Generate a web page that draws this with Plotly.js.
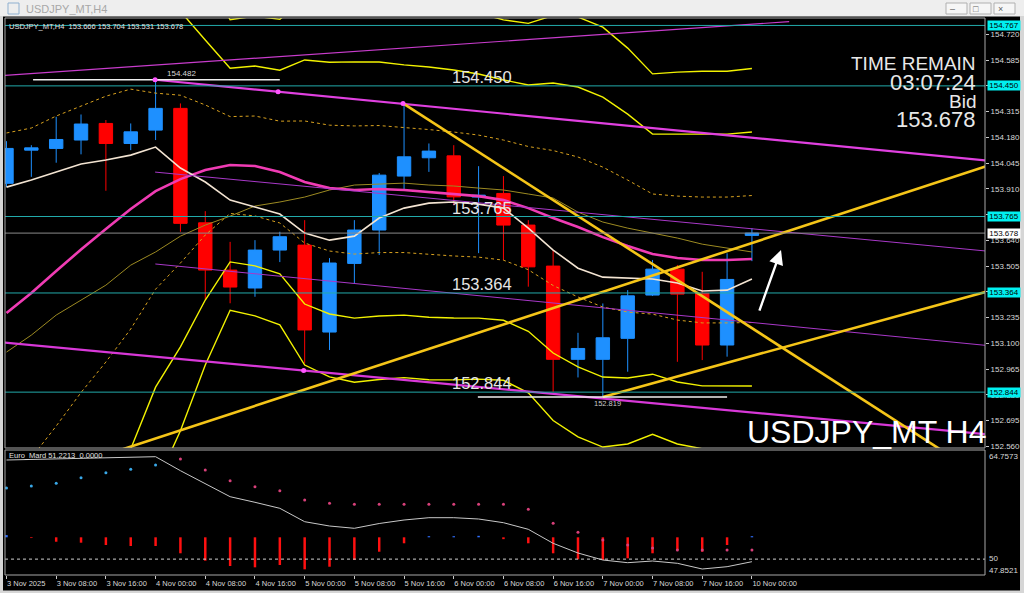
<!DOCTYPE html>
<html><head><meta charset="utf-8">
<script src="https://cdn.plot.ly/plotly-3.0.1.min.js"></script>
<style>html,body{margin:0;padding:0;background:#000;overflow:hidden}#chart{width:1024px;height:593px}</style>
</head><body><div id="chart"></div>
<script>
// ---------------- DATA ----------------
const times = ['3 Nov 00:00','3 Nov 04:00','3 Nov 08:00','3 Nov 12:00','3 Nov 16:00','3 Nov 20:00',
  '4 Nov 00:00','4 Nov 04:00','4 Nov 08:00','4 Nov 12:00','4 Nov 16:00','4 Nov 20:00',
  '5 Nov 00:00','5 Nov 04:00','5 Nov 08:00','5 Nov 12:00','5 Nov 16:00','5 Nov 20:00',
  '6 Nov 00:00','6 Nov 04:00','6 Nov 08:00','6 Nov 12:00','6 Nov 16:00','6 Nov 20:00',
  '7 Nov 00:00','7 Nov 04:00','7 Nov 08:00','7 Nov 12:00','7 Nov 16:00','7 Nov 20:00','10 Nov 00:00'];
const tickLabels = ['3 Nov 2025','3 Nov 08:00','3 Nov 16:00','4 Nov 00:00','4 Nov 08:00','4 Nov 16:00',
  '5 Nov 00:00','5 Nov 08:00','5 Nov 16:00','6 Nov 00:00','6 Nov 08:00','6 Nov 16:00',
  '7 Nov 00:00','7 Nov 08:00','7 Nov 16:00','10 Nov 00:00'];
const open  = [153.939,154.113,154.122,154.166,154.253,154.148,154.218,154.332,153.732,153.484,153.390,153.589,153.615,153.159,153.519,153.694,153.977,154.073,154.083,153.867,153.886,153.720,153.505,153.016,153.016,153.126,153.353,153.489,153.362,153.091,153.666];
const high  = [154.160,154.139,154.288,154.300,154.271,154.253,154.482,154.358,153.793,153.632,153.641,153.685,153.746,153.547,153.746,153.993,154.358,154.148,154.139,154.029,153.977,153.746,153.589,153.155,153.309,153.379,153.537,153.511,153.475,153.572,153.704];
const low   = [153.920,153.973,154.047,154.091,153.900,154.113,154.166,153.685,153.330,153.310,153.344,153.526,152.995,153.065,153.414,153.563,153.904,153.999,153.825,153.573,153.537,153.397,152.846,152.921,152.819,152.951,153.348,153.003,153.012,153.030,153.531];
const close = [154.122,154.125,154.169,154.250,154.148,154.209,154.332,153.729,153.484,153.395,153.589,153.659,153.170,153.521,153.694,153.982,154.078,154.108,153.868,153.877,153.720,153.501,153.016,153.073,153.129,153.349,153.489,153.358,153.091,153.435,153.678];
const maFast = [153.919,153.956,153.998,154.040,154.061,154.087,154.129,154.019,153.946,153.851,153.815,153.778,153.678,153.641,153.662,153.757,153.809,153.835,153.841,153.830,153.809,153.704,153.589,153.494,153.447,153.442,153.437,153.416,153.374,153.379,153.437];
const maSlow = [153.054,153.143,153.248,153.327,153.405,153.510,153.579,153.662,153.720,153.767,153.820,153.841,153.867,153.904,153.930,153.935,153.940,153.930,153.925,153.914,153.904,153.883,153.862,153.788,153.736,153.704,153.678,153.652,153.620,153.599,153.579];
const bbMid = [153.259,153.364,153.479,153.592,153.699,153.804,153.898,153.961,154.009,154.035,154.030,153.998,153.946,153.914,153.904,153.909,153.904,153.893,153.883,153.872,153.851,153.809,153.757,153.710,153.657,153.610,153.568,153.547,153.537,153.537,153.542];
const bbDev = [0.944,0.865,0.813,0.750,0.697,0.629,0.514,0.440,0.341,0.254,0.262,0.267,0.320,0.330,0.336,0.333,0.328,0.328,0.325,0.320,0.315,0.323,0.354,0.367,0.367,0.346,0.315,0.325,0.330,0.330,0.333];
const oscLine = [63.405,63.472,63.540,63.607,63.675,63.743,63.851,61.958,60.254,58.441,57.684,56.872,55.060,54.479,54.168,54.817,55.290,55.601,55.601,55.425,54.925,54.032,52.139,50.827,49.881,49.515,49.745,49.434,48.663,48.974,49.651];
const oscDots = [59.618,59.888,60.254,61.011,61.687,62.147,62.728,63.540,62.052,60.605,59.794,59.253,57.995,57.549,57.427,57.427,57.427,57.427,57.427,57.427,57.427,56.737,54.844,53.627,52.585,51.909,51.503,51.233,51.233,51.233,51.233];
const oscDotDir = [1,1,1,1,1,1,1,-1,-1,-1,-1,-1,-1,-1,-1,-1,-1,-1,-1,-1,-1,-1,-1,-1,-1,-1,-1,-1,-1,-1,-1];
const oscHist = [0.3,-0.1,-0.60,-0.73,-1.04,-1.18,-1.18,-2.16,-3.16,-3.88,-4.06,-3.75,-4.33,-3.98,-3.07,-1.95,-0.81,0.15,0.15,0.2,-0.25,-0.81,-2.16,-2.98,-3.07,-2.84,-2.16,-1.72,-1.95,-1.04,0.15];
const histBase = 52.95;
const oscLabels = ['64.7573','50','47.8521'];
const oscTitle = 'Euro_Mard 51.2213  0.0000';
const levels = [154.767, 154.450, 153.765, 153.364, 152.844];
const bidPrice = 153.678;
const priceTicks = [152.560,152.695,152.830,152.965,153.100,153.235,153.370,153.505,153.640,153.775,153.910,154.045,154.180,154.315,154.450,154.585,154.720];
const highMark = {price:154.482, from:1.07, to:11.0, label:'154.482'};
const lowMark  = {price:152.819, from:18.97, to:29.0, label:'152.819'};
// drawn objects: anchor points [x(candle index), price]
const yellowTrendX = [[15.96,37.6],[4.5,39.5],[24.0,39.5]];
const yellowTrendY = [[154.358,152.542],[152.537,154.032],[152.819,153.373]];
const magentaTrendX = [[-0.5,31.5],[5.98,39.5],[5.98,39.5],[5.99,39.5],[-0.5,39.5]];
const magentaTrendY = [[154.501,154.787],[154.482,154.058],[153.998,153.583],[153.516,153.088],[153.109,152.622]];
const anchorX = [5.98,10.93,11.96,15.96];
const anchorY = [154.482,154.419,152.957,154.358];
const arrowFrom = [30.28,153.264], arrowTo = [31.17,153.589];
const headerText = 'USDJPY_MT,H4  153.666 153.704 153.531 153.678';
const windowTitle = 'USDJPY_MT,H4';
const infoLines = ['TIME REMAIN','03:07:24','Bid','153.678'];
const symbolText = 'USDJPY_MT H4';

// ---------------- PLOT ----------------
const FONT = 'Liberation Sans, Arial, sans-serif';
const idx = times.map((_, k) => k);
const tickVals = tickLabels.map((_, k) => 2 * k);
const PX = px => (px - 5) / 980;       // pixel -> paper x
const PY = py => (575 - py) / 557;     // pixel -> paper y

const traces = [];
[[3,'#f2f200','solid',1.4],[2,'#f2f200','solid',1.4],[1,'#d9a21f','dot',1],
 [-1,'#d9a21f','dot',1],[-2,'#f2f200','solid',1.4],[-3,'#f2f200','solid',1.4]].forEach(([f,c,d,w]) => {
  traces.push({type:'scatter', mode:'lines', x: idx, y: bbMid.map((m,k)=>m + f*bbDev[k]),
    line:{color:c, width:w, dash:d}, hoverinfo:'skip'});
});
traces.push({type:'scatter', mode:'lines', x: idx, y: maSlow, line:{color:'#9c8a22', width:1}, hoverinfo:'skip'});
traces.push({type:'candlestick', x: idx, open, high, low, close, whiskerwidth:0,
  increasing:{line:{color:'#1e90ff', width:1}, fillcolor:'#1e90ff'},
  decreasing:{line:{color:'#ff0000', width:1}, fillcolor:'#ff0000'}, hoverinfo:'skip'});
traces.push({type:'scatter', mode:'lines', x: idx, y: bbMid, line:{color:'#f03cb4', width:2.6}, hoverinfo:'skip'});
traces.push({type:'scatter', mode:'lines', x: idx, y: maFast, line:{color:'#f3e4d2', width:1.6}, hoverinfo:'skip'});
const magStyles = [['#c83ccc',1.2],['#e040e0',2.2],['#a838c8',1],['#a838c8',1],['#d838d8',2.2]];
magentaTrendX.forEach((xs,k) => traces.push({type:'scatter', mode:'lines', x: xs, y: magentaTrendY[k],
  line:{color:magStyles[k][0], width:magStyles[k][1]}, hoverinfo:'skip'}));
yellowTrendX.forEach((xs,k) => traces.push({type:'scatter', mode:'lines', x: xs, y: yellowTrendY[k],
  line:{color:'#f5c518', width:2.6}, hoverinfo:'skip'}));
[highMark, lowMark].forEach(m => traces.push({type:'scatter', mode:'lines', x:[m.from, m.to], y:[m.price, m.price],
  line:{color:'#f0f0f0', width:1.5}, hoverinfo:'skip'}));
traces.push({type:'scatter', mode:'markers', x: anchorX, y: anchorY, marker:{color:'#ff55ff', size:5}, hoverinfo:'skip'});
traces.push({type:'bar', x: idx, y: oscHist, base: histBase, width: 0.1, xaxis:'x', yaxis:'y2',
  marker:{color: oscHist.map(v => v < 0 ? '#ff1010' : '#2f6fff'), line:{width:0}}, hoverinfo:'skip'});
traces.push({type:'scatter', mode:'lines', x: idx, y: oscLine, xaxis:'x', yaxis:'y2', line:{color:'#c8c8c8', width:1}, hoverinfo:'skip'});
traces.push({type:'scatter', mode:'markers', x: idx, y: oscDots, xaxis:'x', yaxis:'y2',
  marker:{size:3, color: oscDotDir.map(d => d > 0 ? '#39a8e8' : '#d8407a')}, hoverinfo:'skip'});

const shapes = [];
levels.forEach(l => shapes.push({type:'line', xref:'paper', x0:0, x1:1, yref:'y', y0:l, y1:l, line:{color:'#22aaaa', width:1}}));
shapes.push({type:'line', xref:'paper', x0:0, x1:1, yref:'y', y0:bidPrice, y1:bidPrice, line:{color:'#8a8a8a', width:1}});
shapes.push({type:'line', xref:'paper', x0:0, x1:1, yref:'y2', y0:50, y1:50, line:{color:'#d0d0d0', width:1, dash:'dot'}});
shapes.push({type:'rect', xref:'paper', yref:'paper', x0:0, x1:1, y0:PY(448), y1:1, line:{color:'#a8a8a8', width:1}});
shapes.push({type:'rect', xref:'paper', yref:'paper', x0:0, x1:1, y0:0, y1:PY(450), line:{color:'#a8a8a8', width:1}});
shapes.push({type:'rect', xref:'paper', yref:'paper', x0:PX(0), x1:PX(1024), y0:PY(16.5), y1:PY(0), fillcolor:'#eeeeee', line:{width:0}});
shapes.push({type:'rect', xref:'paper', yref:'paper', x0:PX(0), x1:PX(3), y0:PY(593), y1:PY(16), fillcolor:'#d6d6d6', line:{width:0}});
shapes.push({type:'rect', xref:'paper', yref:'paper', x0:PX(1020), x1:PX(1024), y0:PY(593), y1:PY(16), fillcolor:'#d6d6d6', line:{width:0}});
shapes.push({type:'rect', xref:'paper', yref:'paper', x0:PX(0), x1:PX(1024), y0:PY(593), y1:PY(590.5), fillcolor:'#d6d6d6', line:{width:0}});
shapes.push({type:'rect', xref:'paper', yref:'paper', x0:PX(8), x1:PX(19), y0:PY(14), y1:PY(3), fillcolor:'rgba(0,0,0,0)', line:{color:'#8fb0d0', width:1}});
[946,970,994].forEach(bx => shapes.push({type:'rect', xref:'paper', yref:'paper', x0:PX(bx), x1:PX(bx+21), y0:PY(14), y1:PY(3),
  fillcolor:'#f6f6f6', line:{color:'#b0b0b0', width:1}}));

const annotations = [];
levels.forEach(l => annotations.push({xref:'paper', x:1, xanchor:'left', xshift:2, yref:'y', y:l, text:l.toFixed(3),
  showarrow:false, bgcolor:'#00f0f0', width:32, height:9, borderpad:0, font:{family:FONT, size:8, color:'#000'}}));
annotations.push({xref:'paper', x:1, xanchor:'left', xshift:2, yref:'y', y:bidPrice, text:bidPrice.toFixed(3),
  showarrow:false, bgcolor:'#ffffff', width:32, height:9, borderpad:0, font:{family:FONT, size:8, color:'#000'}});
levels.slice(1).forEach(l => annotations.push({xref:'x', x:17.85, xanchor:'left', yref:'y', y:l, yanchor:'middle', yshift:9,
  text:l.toFixed(3), showarrow:false, font:{family:FONT, size:16.5, color:'#e6e6e6'}}));
annotations.push({xref:'x', x:(highMark.from+highMark.to)/2 + 1, yref:'y', y:highMark.price, yanchor:'bottom', text:highMark.label,
  showarrow:false, font:{family:FONT, size:8, color:'#d8d8d8'}});
annotations.push({xref:'x', x:(lowMark.from+lowMark.to)/2 + 0.2, yref:'y', y:lowMark.price, yanchor:'top', text:lowMark.label,
  showarrow:false, font:{family:FONT, size:7.5, color:'#c8c8c8'}});
// info text (font sizes matched to measured widths)
[[infoLines[0],63.5,19],[infoLines[1],82,22],[infoLines[2],101.5,19],[infoLines[3],120,22]].forEach(([t,py,fs]) =>
  annotations.push({xref:'paper', x:PX(978), xanchor:'right', yref:'paper', y:PY(py), yanchor:'middle', text:t, showarrow:false,
    height:17, font:{family:FONT, size:fs, color:'#e8e8e8'}}));
annotations.push({xref:'paper', x:PX(988), xanchor:'right', yref:'paper', y:PY(432), yanchor:'middle', text:symbolText, showarrow:false,
  font:{family:FONT, size:32, color:'#ffffff'}});
annotations.push({xref:'paper', x:PX(7), xanchor:'left', yref:'paper', y:PY(27), yanchor:'middle', text:headerText, showarrow:false,
  font:{family:FONT, size:7.5, color:'#e0e0e0'}});
annotations.push({xref:'paper', x:PX(7), xanchor:'left', yref:'paper', y:PY(455), yanchor:'middle', text:oscTitle, showarrow:false,
  font:{family:FONT, size:7.5, color:'#e0e0e0'}});
[[oscLabels[0],456],[oscLabels[1],558],[oscLabels[2],570]].forEach(([t,py]) =>
  annotations.push({xref:'paper', x:PX(987), xanchor:'left', yref:'paper', y:PY(py), yanchor:'middle', text:t, showarrow:false,
    font:{family:FONT, size:8, color:'#d8d8d8'}}));
annotations.push({xref:'paper', x:PX(24), xanchor:'left', yref:'paper', y:PY(8.5), yanchor:'middle', text:windowTitle, showarrow:false,
  font:{family:FONT, size:11, color:'#a8a8a8'}});
[['–',956.5],['□',980.5],['×',1004.5]].forEach(([t,bx]) => annotations.push({xref:'paper', x:PX(bx), yref:'paper', y:PY(8.5),
  yanchor:'middle', text:t, showarrow:false, font:{family:FONT, size:9, color:'#606060'}}));
annotations.push({xref:'x', yref:'y', x:arrowTo[0], y:arrowTo[1], axref:'x', ayref:'y', ax:arrowFrom[0], ay:arrowFrom[1],
  text:'', showarrow:true, arrowhead:2, arrowsize:1.2, arrowwidth:2.4, arrowcolor:'#ffffff'});

const layout = {
  width:1024, height:593, margin:{l:5, r:39, t:18, b:18},
  paper_bgcolor:'#000', plot_bgcolor:'#000', showlegend:false, hovermode:false, dragmode:false,
  boxgap:0.23,
  xaxis:{anchor:'y2', range:[-0.06, 39.38], tickvals:tickVals, ticktext:tickLabels, tickangle:0, ticks:'outside', ticklen:3,
    tickcolor:'#c8c8c8', tickfont:{family:FONT, size:7.5, color:'#d8d8d8'}, ticklabelposition:'outside right',
    ticklabelstandoff:1, showgrid:false, zeroline:false, showline:false, rangeslider:{visible:false}, fixedrange:true},
  yaxis:{domain:[PY(448),1], range:[152.551,154.806], side:'right', anchor:'x', tickvals:priceTicks,
    ticktext:priceTicks.map(v=>v.toFixed(3)), ticks:'outside', ticklen:3, tickcolor:'#c8c8c8',
    tickfont:{family:FONT, size:8, color:'#d8d8d8'}, showgrid:false, zeroline:false, showline:false, fixedrange:true},
  yaxis2:{domain:[0,PY(450)], range:[47.8521,64.7573], side:'right', anchor:'x', showticklabels:false, ticks:'',
    showgrid:false, zeroline:false, showline:false, fixedrange:true},
  shapes, annotations
};
Plotly.newPlot('chart', traces, layout, {displayModeBar:false, staticPlot:true});
</script></body></html>
